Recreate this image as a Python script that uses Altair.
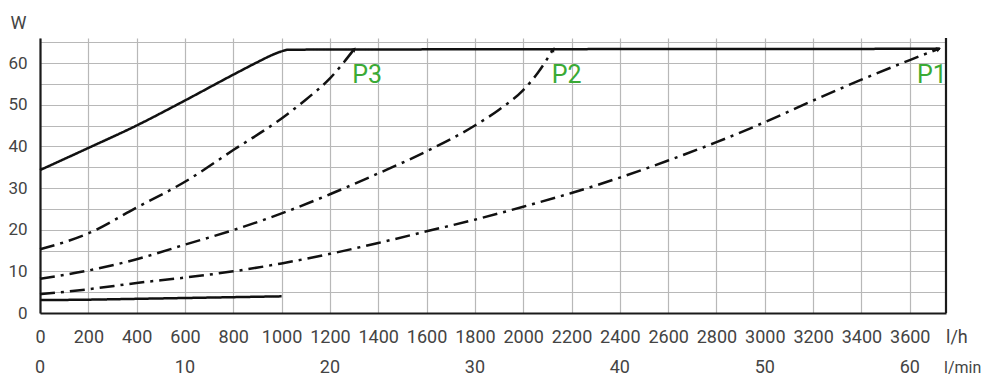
import math
import altair as alt
import pandas as pd

# ---- data ----
flow_max = [0, 200, 400, 600, 800, 900, 960, 1000, 1030, 3725]
power_max = [34.3, 39.6, 45.0, 51.0, 57.2, 60.2, 61.9, 62.8, 63.2, 63.4]

flow_min = [0, 200, 400, 600, 800, 1000]
power_min = [3.1, 3.2, 3.4, 3.6, 3.8, 4.0]

flow_p1 = [0, 200, 400, 600, 800, 1000, 1200, 1400, 1600, 1800, 2000, 2200,
           2400, 2600, 2800, 3000, 3200, 3400, 3600, 3720]
power_p1 = [4.5, 5.7, 7.2, 8.5, 10.0, 11.9, 14.2, 16.8, 19.6, 22.4, 25.5, 28.8,
            32.5, 36.6, 41.0, 45.8, 51.0, 56.0, 60.7, 63.4]

flow_p2 = [0, 200, 400, 600, 800, 1000, 1200, 1400, 1600, 1800, 1900, 2000, 2060, 2124]
power_p2 = [8.2, 10.2, 12.9, 16.4, 19.9, 23.9, 28.5, 33.5, 38.8, 45.0, 48.8, 53.5, 57.6, 63.3]

flow_p3 = [0, 200, 400, 600, 800, 1000, 1100, 1200, 1300]
power_p3 = [15.3, 19.1, 25.3, 31.5, 39.1, 46.7, 51.2, 56.3, 63.3]

curve_names = ["max", "min", "P1", "P2", "P3"]
label_names = ["P1", "P2", "P3"]
label_flow = [3630, 2118, 1292]
label_power = [55.3, 55.3, 55.3]

lh_ticks = list(range(0, 3601, 200))
lmin_ticks = [0, 10, 20, 30, 40, 50, 60]
w_grid = list(range(0, 66, 5))
unit_lh = "l/h"
unit_lmin = "l/min"

# ---- styling ----
W, H = 906, 275
XMAX, YMAX = 3750, 66
FONT = "Roboto"
TXT = "#444444"
GREEN = "#3aaa35"
GRID = "#b8b8b8"

series = {
    "max": (flow_max, power_max),
    "min": (flow_min, power_min),
    "P1": (flow_p1, power_p1),
    "P2": (flow_p2, power_p2),
    "P3": (flow_p3, power_p3),
}
rows = []
for name in curve_names:
    xs, ys = series[name]
    for x, y in zip(xs, ys):
        rows.append({"curve": name, "flow": x, "power": y})
df = pd.DataFrame(rows)

# arrow heads at the ends of the dash-dot curves
arrows = []
for name in label_names:
    xs, ys = series[name]
    dxp = (xs[-1] - xs[-2]) * W / XMAX
    dyp = (ys[-1] - ys[-2]) * H / YMAX
    ang = (-math.degrees(math.atan2(dyp, dxp))) % 360
    arrows.append({"flow": xs[-1], "power": ys[-1], "angle": ang})
df_arrows = pd.DataFrame(arrows)

df_labels = pd.DataFrame({"label": label_names, "flow": label_flow, "power": label_power})
df_lmin = pd.DataFrame({"lmin": lmin_ticks, "label": [str(v) for v in lmin_ticks]})

xscale = alt.Scale(domain=[0, XMAX], nice=False, zero=False)
yscale = alt.Scale(domain=[0, YMAX], nice=False)

x_axis = alt.Axis(values=lh_ticks, grid=True, gridColor=GRID, gridWidth=1.2,
                  domain=True, domainColor="#1a1a1a", domainWidth=2.2,
                  ticks=False, labelFont=FONT, labelFontSize=18, labelColor=TXT,
                  labelPadding=15, labelFlush=False, labelOverlap=False,
                  format="d", title=None)
y_axis = alt.Axis(values=w_grid, grid=True, gridColor=GRID, gridWidth=1.2,
                  domain=True, domainColor="#1a1a1a", domainWidth=2.2,
                  ticks=False, labelFont=FONT, labelFontSize=17, labelColor=TXT,
                  labelPadding=13, labelOverlap=False,
                  labelExpr="datum.value % 10 == 0 ? datum.label : ''",
                  title="W", titleAngle=0, titleAlign="left",
                  titleBaseline="alphabetic", titleX=-30, titleY=-10,
                  titleFont=FONT, titleFontSize=18, titleFontWeight="normal",
                  titleColor=TXT)

X = alt.X("flow:Q", scale=xscale, axis=x_axis)
Y = alt.Y("power:Q", scale=yscale, axis=y_axis)

lines = alt.Chart(df).mark_line(strokeWidth=2.5, color="#111111",
                                interpolate="monotone").encode(
    x=X, y=Y,
    detail="curve:N",
    strokeDash=alt.StrokeDash(
        "curve:N",
        scale=alt.Scale(domain=curve_names,
                        range=[[1, 0], [1, 0], [15, 6, 3, 6], [15, 6, 3, 6], [15, 6, 3, 6]]),
        legend=None),
)

heads = alt.Chart(df_arrows).mark_point(shape="triangle-right", filled=True,
                                        size=30, color="#111111", opacity=1).encode(
    x=X, y=Y,
    angle=alt.Angle("angle:Q", scale=None),
)

border = alt.Chart(pd.DataFrame({"a": [0]})).mark_rule(
    color="#1a1a1a", strokeWidth=2.2).encode(
    x=alt.value(W), y=alt.value(0), y2=alt.value(H))

plabels = alt.Chart(df_labels).mark_text(
    align="left", baseline="alphabetic", font=FONT, fontSize=25, color=GREEN).encode(
    x=X, y=Y, text="label:N",
)

lmin_text = alt.Chart(df_lmin).transform_calculate(flow="datum.lmin * 60").mark_text(
    align="center", baseline="alphabetic", font=FONT, fontSize=18, color=TXT).encode(
    x=X,
    y=alt.value(335),
    text="label:N",
)

u1 = alt.Chart(pd.DataFrame({"u": [unit_lh]})).mark_text(
    align="left", baseline="alphabetic", font=FONT, fontSize=18, color=TXT).encode(
    x=alt.value(W), y=alt.value(305), text="u:N")
u2 = alt.Chart(pd.DataFrame({"u": [unit_lmin]})).mark_text(
    align="left", baseline="alphabetic", font=FONT, fontSize=16, color=TXT).encode(
    x=alt.value(W - 2), y=alt.value(335), text="u:N")

chart = alt.layer(lines, heads, border, plabels, lmin_text, u1, u2).properties(
    width=W, height=H,
    autosize=alt.AutoSizeParams(type="none"),
    padding={"left": 32, "top": 30, "right": 36, "bottom": 80},
).configure_view(stroke=None)

chart.save("out.html", embed_options={"renderer": "svg", "actions": False})
